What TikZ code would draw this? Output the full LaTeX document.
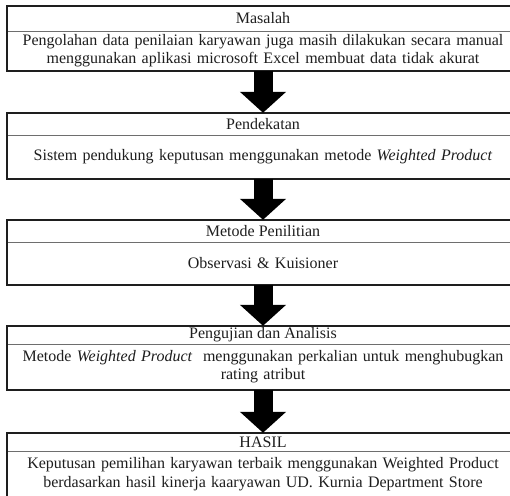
\documentclass[tikz,border=0pt]{standalone}
\usepackage{fontspec}
\setmainfont{Liberation Serif}
\usetikzlibrary{arrows.meta}
\definecolor{ink}{HTML}{1E1E1E}
\definecolor{rule}{HTML}{6E6E6E}
\tikzset{
  ttl/.style={inner sep=0pt, minimum width=512pt, text=ink, font=\fontsize{16}{18}\selectfont},
  body/.style={inner sep=0pt, minimum width=512pt, text width=508pt, align=center, text=ink, font=\fontsize{16}{18.5}\selectfont},
  outer/.style={draw=ink, line width=1.8pt},
  divider/.style={draw=rule, line width=0.9pt},
  bigarrow/.style={draw=black, line width=19pt, -{Triangle[width=45pt,length=21pt]}}
}
\begin{document}
\begin{tikzpicture}[x=1pt,y=-1pt]
\useasboundingbox (0,0) rectangle (510,495);
\fill[white] (0,0) rectangle (510,495);
\clip (0,0) rectangle (510,495);
% box 1
\node[ttl, minimum height=25pt] (t1) at (263,18.5) {Masalah};
\node[body, minimum height=39pt, anchor=north] (b1) at (t1.south) {Pengolahan data penilaian karyawan juga masih dilakukan secara manual\\ menggunakan aplikasi microsoft Excel membuat data tidak akurat};
% box 2
\node[ttl, minimum height=22pt] (t2) at (263,124) {Pendekatan};
\node[body, minimum height=43pt, anchor=north] (b2) at (t2.south) {Sistem pendukung keputusan menggunakan metode \textit{Weighted Product}};
% box 3
\node[ttl, minimum height=22pt] (t3) at (263,231) {Metode Penilitian};
\node[body, minimum height=42pt, anchor=north] (b3) at (t3.south) {Observasi \& Kuisioner};
% box 4
\node[ttl, minimum height=18pt] (t4) at (263,335) {Pengujian dan Analisis};
\node[body, minimum height=45pt, anchor=north] (b4) at (t4.south) {Metode \textit{Weighted Product}\ \ menggunakan perkalian untuk menghubugkan\\ rating atribut};
% box 5
\node[ttl, minimum height=18pt] (t5) at (263,442) {HASIL};
\node[body, minimum height=46pt, anchor=north] (b5) at (t5.south) {Keputusan pemilihan karyawan terbaik menggunakan Weighted Product\\ berdasarkan hasil kinerja kaaryawan UD. Kurnia Department Store};
% borders
\foreach \i in {1,...,5}{
  \draw[divider] (t\i.south west) -- (t\i.south east);
  \draw[outer] (t\i.north west) rectangle (b\i.south east);
}
% arrows
\draw[bigarrow] (b1.south) -- (t2.north);
\draw[bigarrow] (b2.south) -- (t3.north);
\draw[bigarrow] (b3.south) -- (t4.north);
\draw[bigarrow] (b4.south) -- (t5.north);
\end{tikzpicture}
\end{document}
